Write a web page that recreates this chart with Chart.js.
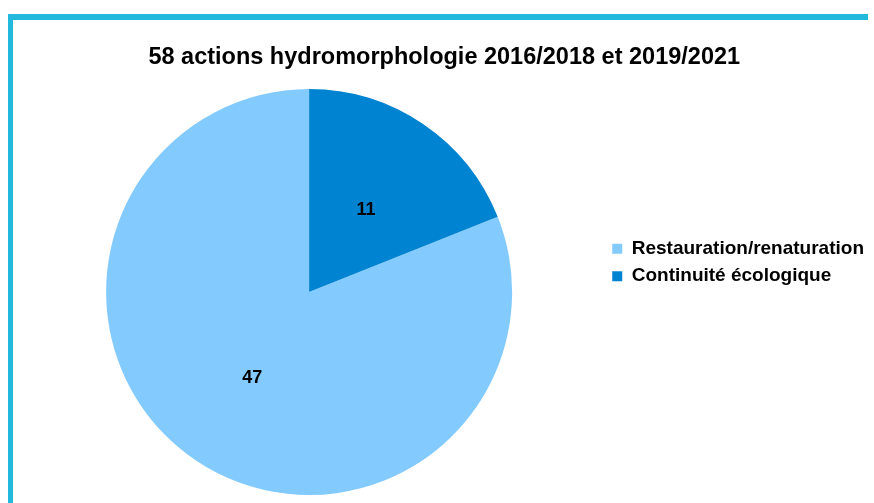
<!DOCTYPE html>
<html>
<head>
<meta charset="utf-8">
<script src="https://cdn.jsdelivr.net/npm/chart.js@4/dist/chart.umd.min.js"></script>
<style>
    body { margin: 0; background: #ffffff; }
    #frame {
        position: absolute; left: 8px; top: 14px; width: 860px; height: 489px;
        border-top: 6px solid #22b9dc; border-left: 5px solid #22b9dc;
        box-sizing: border-box;
    }
    #wrap { position: absolute; left: 0; top: 0; width: 874px; height: 503px; }
</style>
</head>
<body>
<div id="frame"></div>
<div id="wrap"><canvas id="pie-chart" width="874" height="503"></canvas></div>
<script>
// Data
const categories = ["Restauration/renaturation", "Continuité écologique"];
const actionCounts = [47, 11];
const sliceColors = ["#83caff", "#0084d1"];
const chartTitle = "58 actions hydromorphologie 2016/2018 et 2019/2021";

// Start the first slice where the second one ends, so "Continuité" sits at 12 o'clock
const total = actionCounts.reduce((a, b) => a + b, 0);
const startAngle = (actionCounts[1] / total) * 360;

// Value labels drawn in the middle of each slice
const sliceLabels = {
    id: "sliceLabels",
    afterDatasetsDraw(chart) {
        const { ctx } = chart;
        const meta = chart.getDatasetMeta(0);
        ctx.save();
        ctx.font = "bold 18px 'Liberation Sans', Arial, sans-serif";
        ctx.fillStyle = "#000000";
        ctx.textAlign = "center";
        ctx.textBaseline = "middle";
        meta.data.forEach((arc, i) => {
            const pos = arc.tooltipPosition();
            ctx.fillText(String(actionCounts[i]), pos.x, pos.y + 2);
        });
        ctx.restore();
    },
};

Chart.defaults.font.family = "'Liberation Sans', Arial, sans-serif";
Chart.defaults.color = "#000000";

new Chart(document.getElementById("pie-chart").getContext("2d"), {
    type: "pie",
    data: {
        labels: categories,
        datasets: [{
            data: actionCounts,
            backgroundColor: sliceColors,
            borderWidth: 0,
        }],
    },
    options: {
        responsive: false,
        animation: false,
        rotation: startAngle,
        layout: { padding: { left: 14.5, right: 0, top: 30, bottom: 8 } },
        plugins: {
            title: {
                display: true,
                text: chartTitle,
                font: { size: 23.5, weight: "bold" },
                padding: { top: 13.9, bottom: 16.9 },
            },
            legend: {
                position: "right",
                labels: {
                    boxWidth: 10,
                    boxHeight: 10,
                    padding: 8.5,
                    font: { size: 19, weight: "bold" },
                },
            },
            tooltip: { enabled: false },
        },
    },
    plugins: [sliceLabels],
});
</script>
</body>
</html>
